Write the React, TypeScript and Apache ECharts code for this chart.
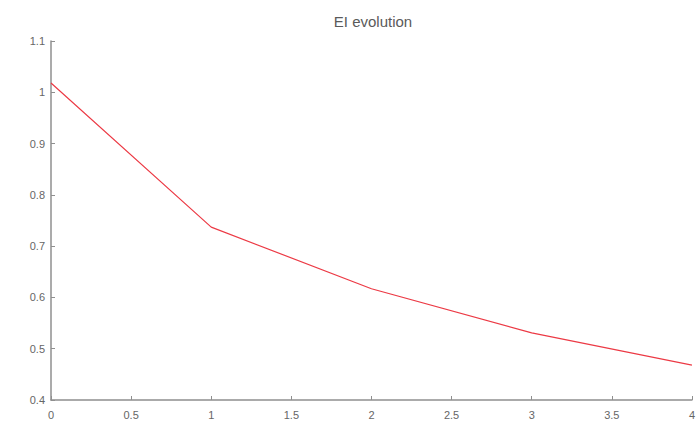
import React, { useEffect, useRef } from "react";
import * as echarts from "echarts";

// EI values sampled at each step
const steps: number[] = [0, 1, 2, 3, 4];
const eiValues: number[] = [1.018, 0.737, 0.617, 0.531, 0.468];

const chartTitle = "EI evolution";

export default function App() {
  const ref = useRef<HTMLDivElement>(null);

  useEffect(() => {
    if (!ref.current) return;
    const chart = echarts.init(ref.current, null, { renderer: "svg" });
    const axisColor = "#8f8f8f";
    const labelColor = "#666";
    chart.setOption({
      animation: false,
      backgroundColor: "#ffffff",
      title: {
        text: chartTitle,
        left: 368,
        top: 9,
        textAlign: "center",
        textStyle: {
          fontFamily: "Liberation Sans, Arial, sans-serif",
          fontSize: 15,
          fontWeight: "normal",
          color: "#5a5a5a",
        },
      },
      grid: { left: 51, right: 6, top: 41, bottom: 23, containLabel: false },
      xAxis: {
        type: "value",
        min: 0,
        max: 4,
        interval: 0.5,
        axisLine: { show: true, onZero: false, lineStyle: { color: axisColor, width: 1.5 } },
        axisTick: { show: true, inside: true, length: 4, lineStyle: { color: axisColor } },
        splitLine: { show: false },
        axisLabel: {
          margin: 9,
          fontSize: 11,
          color: labelColor,
          fontFamily: "Liberation Sans, Arial, sans-serif",
          formatter: (v: number) => String(v),
        },
      },
      yAxis: {
        type: "value",
        min: 0.4,
        max: 1.1,
        interval: 0.1,
        axisLine: { show: true, onZero: false, lineStyle: { color: axisColor, width: 1.5 } },
        axisTick: { show: true, inside: true, length: 4, lineStyle: { color: axisColor } },
        splitLine: { show: false },
        axisLabel: {
          margin: 6,
          fontSize: 11,
          color: labelColor,
          fontFamily: "Liberation Sans, Arial, sans-serif",
          formatter: (v: number) => String(Math.round(v * 10) / 10),
        },
      },
      series: [
        {
          type: "line",
          data: steps.map((s, i) => [s, eiValues[i]]),
          showSymbol: false,
          smooth: false,
          lineStyle: { color: "#ec3a45", width: 1.2 },
          itemStyle: { color: "#ec3a45" },
        },
      ],
    });
    return () => chart.dispose();
  }, []);

  return <div ref={ref} style={{ width: 698, height: 423, position: "absolute", left: 0, top: 0 }} />;
}
